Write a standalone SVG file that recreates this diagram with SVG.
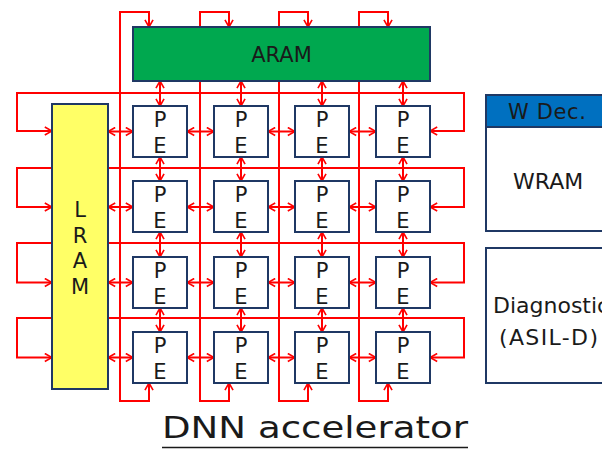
<svg xmlns="http://www.w3.org/2000/svg" width="602" height="449" viewBox="0 0 602 449">
<defs>
<marker id="ah" viewBox="0 0 10 10" refX="9" refY="5" markerWidth="9" markerHeight="10" markerUnits="userSpaceOnUse" orient="auto-start-reverse">
<path d="M1,0.5 L9,5 L1,9.5" fill="none" stroke="#FF0000" stroke-width="1.8"/>
</marker>
</defs>
<style>
.c{fill:none;stroke:#FF0000;stroke-width:2;marker-start:url(#ah);marker-end:url(#ah)}
.box{stroke:#1F3864;stroke-width:2}
.t{font-family:"DejaVu Sans","Liberation Sans",sans-serif;fill:#1A1A1A}
.pt{font-size:21px;text-anchor:middle}
</style>
<rect width="602" height="449" fill="#FFFFFF"/>
<g id="connectors">
<path class="c" d="M149,383 V401 H120 V12 H149 V27"/>
<path class="c" d="M229,383 V401 H200 V12 H229 V27"/>
<path class="c" d="M308,383 V401 H279 V12 H308 V27"/>
<path class="c" d="M388,383 V401 H359 V12 H388 V27"/>
<path class="c" d="M52,131 H17 V93 H464 V131 H430"/>
<path class="c" d="M52,207 H17 V168 H464 V207 H430"/>
<path class="c" d="M52,282.5 H17 V243 H464 V282.5 H430"/>
<path class="c" d="M52,357.5 H17 V318 H464 V357.5 H430"/>
<path class="c" d="M108,131.5 H133"/><path class="c" d="M187,131.5 H214"/><path class="c" d="M268,131.5 H295"/><path class="c" d="M349,131.5 H376"/>
<path class="c" d="M108,207 H133"/><path class="c" d="M187,207 H214"/><path class="c" d="M268,207 H295"/><path class="c" d="M349,207 H376"/>
<path class="c" d="M108,282.5 H133"/><path class="c" d="M187,282.5 H214"/><path class="c" d="M268,282.5 H295"/><path class="c" d="M349,282.5 H376"/>
<path class="c" d="M108,357.5 H133"/><path class="c" d="M187,357.5 H214"/><path class="c" d="M268,357.5 H295"/><path class="c" d="M349,357.5 H376"/>
<path class="c" d="M160,81 V106"/><path class="c" d="M241,81 V106"/><path class="c" d="M322,81 V106"/><path class="c" d="M403,81 V106"/>
<path class="c" d="M160,157 V181"/><path class="c" d="M241,157 V181"/><path class="c" d="M322,157 V181"/><path class="c" d="M403,157 V181"/>
<path class="c" d="M160,232 V257"/><path class="c" d="M241,232 V257"/><path class="c" d="M322,232 V257"/><path class="c" d="M403,232 V257"/>
<path class="c" d="M160,308 V332"/><path class="c" d="M241,308 V332"/><path class="c" d="M322,308 V332"/><path class="c" d="M403,308 V332"/>
</g>
<g id="aram">
<rect class="box" x="133" y="27" width="297" height="54" fill="#00A84F"/>
<text class="t" x="281.5" y="62" font-size="21" text-anchor="middle">ARAM</text>
</g>
<g id="lram">
<rect class="box" x="52" y="104" width="56" height="285" fill="#FFFF66"/>
<text class="t pt" x="80" y="217">L</text>
<text class="t pt" x="80" y="242.5">R</text>
<text class="t pt" x="80" y="268">A</text>
<text class="t pt" x="80" y="293.5">M</text>
</g>
<g id="pe-r1c1"><rect class="box" fill="#FFFFFF" x="133" y="106" width="54" height="51"/><text class="t pt" x="160" y="127">P</text><text class="t pt" x="160" y="153">E</text></g>
<g id="pe-r1c2"><rect class="box" fill="#FFFFFF" x="214" y="106" width="54" height="51"/><text class="t pt" x="241" y="127">P</text><text class="t pt" x="241" y="153">E</text></g>
<g id="pe-r1c3"><rect class="box" fill="#FFFFFF" x="295" y="106" width="54" height="51"/><text class="t pt" x="322" y="127">P</text><text class="t pt" x="322" y="153">E</text></g>
<g id="pe-r1c4"><rect class="box" fill="#FFFFFF" x="376" y="106" width="54" height="51"/><text class="t pt" x="403" y="127">P</text><text class="t pt" x="403" y="153">E</text></g>
<g id="pe-r2c1"><rect class="box" fill="#FFFFFF" x="133" y="181" width="54" height="51"/><text class="t pt" x="160" y="202">P</text><text class="t pt" x="160" y="228">E</text></g>
<g id="pe-r2c2"><rect class="box" fill="#FFFFFF" x="214" y="181" width="54" height="51"/><text class="t pt" x="241" y="202">P</text><text class="t pt" x="241" y="228">E</text></g>
<g id="pe-r2c3"><rect class="box" fill="#FFFFFF" x="295" y="181" width="54" height="51"/><text class="t pt" x="322" y="202">P</text><text class="t pt" x="322" y="228">E</text></g>
<g id="pe-r2c4"><rect class="box" fill="#FFFFFF" x="376" y="181" width="54" height="51"/><text class="t pt" x="403" y="202">P</text><text class="t pt" x="403" y="228">E</text></g>
<g id="pe-r3c1"><rect class="box" fill="#FFFFFF" x="133" y="257" width="54" height="51"/><text class="t pt" x="160" y="278">P</text><text class="t pt" x="160" y="304">E</text></g>
<g id="pe-r3c2"><rect class="box" fill="#FFFFFF" x="214" y="257" width="54" height="51"/><text class="t pt" x="241" y="278">P</text><text class="t pt" x="241" y="304">E</text></g>
<g id="pe-r3c3"><rect class="box" fill="#FFFFFF" x="295" y="257" width="54" height="51"/><text class="t pt" x="322" y="278">P</text><text class="t pt" x="322" y="304">E</text></g>
<g id="pe-r3c4"><rect class="box" fill="#FFFFFF" x="376" y="257" width="54" height="51"/><text class="t pt" x="403" y="278">P</text><text class="t pt" x="403" y="304">E</text></g>
<g id="pe-r4c1"><rect class="box" fill="#FFFFFF" x="133" y="332" width="54" height="51"/><text class="t pt" x="160" y="353">P</text><text class="t pt" x="160" y="379">E</text></g>
<g id="pe-r4c2"><rect class="box" fill="#FFFFFF" x="214" y="332" width="54" height="51"/><text class="t pt" x="241" y="353">P</text><text class="t pt" x="241" y="379">E</text></g>
<g id="pe-r4c3"><rect class="box" fill="#FFFFFF" x="295" y="332" width="54" height="51"/><text class="t pt" x="322" y="353">P</text><text class="t pt" x="322" y="379">E</text></g>
<g id="pe-r4c4"><rect class="box" fill="#FFFFFF" x="376" y="332" width="54" height="51"/><text class="t pt" x="403" y="353">P</text><text class="t pt" x="403" y="379">E</text></g>
<g id="wram">
<rect class="box" x="486" y="95" width="130" height="136" fill="#FFFFFF"/>
<rect class="box" x="486" y="95" width="130" height="32" fill="#0070C0"/>
<text class="t" x="508" y="119" font-size="21" textLength="78" lengthAdjust="spacing">W Dec.</text>
<text class="t" x="513" y="189" font-size="22">WRAM</text>
</g>
<g id="diagnostic">
<rect class="box" x="486" y="248" width="130" height="135" fill="#FFFFFF"/>
<text class="t" x="493" y="312.5" font-size="22">Diagnostic</text>
<text class="t" x="499" y="345" font-size="22" textLength="99" lengthAdjust="spacing">(ASIL-D)</text>
</g>
<g id="title">
<text class="t" x="162" y="438" font-size="31" textLength="306" lengthAdjust="spacingAndGlyphs">DNN accelerator</text>
<line x1="162" y1="447.5" x2="468" y2="447.5" stroke="#1A1A1A" stroke-width="1.6"/>
</g>
</svg>
